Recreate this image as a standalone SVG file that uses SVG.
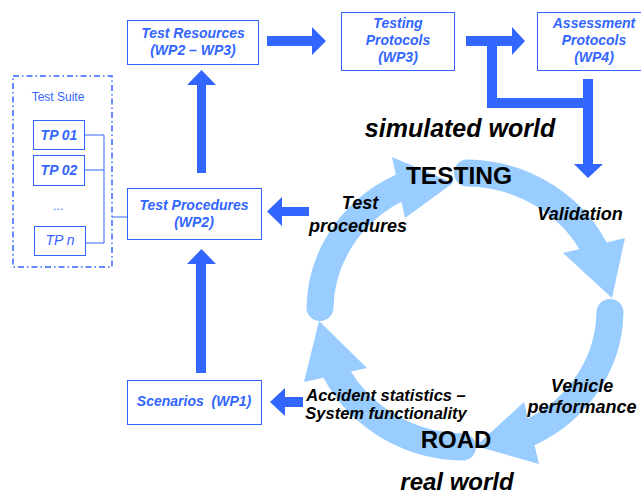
<svg xmlns="http://www.w3.org/2000/svg" width="641" height="495" viewBox="0 0 641 495">
<style>
.box{fill:#fff;stroke:#3366FF;stroke-width:1}
.bt{font-family:"Liberation Sans",Arial,sans-serif;font-weight:bold;font-style:italic;font-size:14px;fill:#3366FF;text-anchor:middle}
.st{font-family:"Liberation Sans",Arial,sans-serif;font-size:12px;fill:#3366FF;text-anchor:middle}
.blk{font-family:"Liberation Sans",Arial,sans-serif;font-weight:bold;fill:#000;text-anchor:middle}
.it{font-style:italic}
.arr{fill:#3366FF}
.cyc{fill:none;stroke:#99CCFF;stroke-width:27;stroke-linecap:round}
.cyh{fill:#99CCFF}
.ln{fill:none;stroke:#3366FF;stroke-width:1}
</style>
<rect width="641" height="495" fill="#fff"/>

<g id="cycle">
  <path class="cyc" d="M320,307.6 A145,137 0 0 1 410.7,183"/>
  <polygon class="cyh" points="392,157 453,183 405,218"/>
  <path class="cyc" d="M467.5,173 A145,137 0 0 1 599.4,258.7"/>
  <polygon class="cyh" points="625,238 612,298 563,253"/>
  <path class="cyc" d="M610,312.4 A145,137 0 0 1 519.3,437"/>
  <polygon class="cyh" points="539,464 476,446 524,402"/>
  <path class="cyc" d="M462.5,447 A145,137 0 0 1 330.6,361.3"/>
  <polygon class="cyh" points="304,382 319,321 367,368"/>
</g>

<g id="connectors">
  <polygon class="arr" points="267,36 312,36 312,27 326,41 312,55 312,46 267,46"/>
  <polygon class="arr" points="466,36 512,36 512,27 525,41 512,55 512,46 466,46"/>
  <polygon class="arr" points="487,46 497,46 497,98 583,98 583,79 593,79 593,164 603,164 588,178 574,164 583,164 583,108 487,108"/>
  <polygon class="arr" points="197,173 197,85 187,85 201.5,70 216,85 206,85 206,173"/>
  <polygon class="arr" points="196,373 196,264 187,264 201.5,249 216,264 206,264 206,373"/>
  <polygon class="arr" points="309,207 282,207 282,197 267,211.5 282,226 282,216 309,216"/>
  <polygon class="arr" points="303,397 285,397 285,388 270,402 285,416 285,407 303,407"/>
  <polyline class="ln" points="84,135 104,135 104,243 86,243"/>
  <line class="ln" x1="84" y1="170" x2="104" y2="170"/>
  <line class="ln" x1="112" y1="217" x2="127" y2="217"/>
</g>

<g id="test-resources">
  <rect class="box" x="127.5" y="20.5" width="131" height="44"/>
  <text class="bt" x="193" y="38">Test Resources</text>
  <text class="bt" x="193" y="55">(WP2 – WP3)</text>
</g>

<g id="testing-protocols">
  <rect class="box" x="341.5" y="12.5" width="113" height="58"/>
  <text class="bt" x="398" y="28">Testing</text>
  <text class="bt" x="398" y="45">Protocols</text>
  <text class="bt" x="398" y="62">(WP3)</text>
</g>

<g id="assessment-protocols">
  <rect class="box" x="537.5" y="12.5" width="114" height="58"/>
  <text class="bt" x="594" y="28">Assessment</text>
  <text class="bt" x="594" y="45">Protocols</text>
  <text class="bt" x="594" y="62">(WP4)</text>
</g>

<g id="test-procedures">
  <rect class="box" x="127.5" y="188.5" width="134" height="51"/>
  <text class="bt" x="194" y="210">Test Procedures</text>
  <text class="bt" x="194" y="227">(WP2)</text>
</g>

<g id="scenarios">
  <rect class="box" x="127.5" y="380.5" width="134" height="44"/>
  <text class="bt" x="194" y="406" xml:space="preserve">Scenarios  (WP1)</text>
</g>

<g id="test-suite">
  <rect x="13" y="76" width="99" height="191" fill="none" stroke="#3366FF" stroke-width="1.5" stroke-dasharray="6,3,1.5,3"/>
  <text class="st" x="58" y="101">Test Suite</text>
</g>

<g id="tp01">
  <rect class="box" x="33.5" y="120.5" width="51" height="29"/>
  <text class="bt" x="59" y="140">TP 01</text>
</g>
<g id="tp02">
  <rect class="box" x="33.5" y="155.5" width="51" height="30"/>
  <text class="bt" x="59" y="175">TP 02</text>
</g>
<g id="tp-dots">
  <text class="st" x="58" y="210">...</text>
</g>
<g id="tpn">
  <rect class="box" x="34.5" y="226.5" width="51" height="29"/>
  <text class="bt" x="60" y="245" style="font-weight:normal">TP n</text>
</g>

<g id="labels">
  <text class="blk it" x="460" y="137" font-size="25">simulated world</text>
  <text class="blk" x="459" y="184" font-size="24.5">TESTING</text>
  <text class="blk it" x="360" y="209" font-size="18">Test</text>
  <text class="blk it" x="358" y="232" font-size="18">procedures</text>
  <text class="blk it" x="580" y="220" font-size="18">Validation</text>
  <text class="blk it" x="582" y="392" font-size="18">Vehicle</text>
  <text class="blk it" x="582" y="413" font-size="18">performance</text>
  <text class="blk it" x="386" y="401" font-size="16.5">Accident statistics –</text>
  <text class="blk it" x="386" y="419" font-size="16.5">System functionality</text>
  <text class="blk" x="456" y="448" font-size="24">ROAD</text>
  <text class="blk it" x="457" y="490" font-size="24">real world</text>
</g>
</svg>
